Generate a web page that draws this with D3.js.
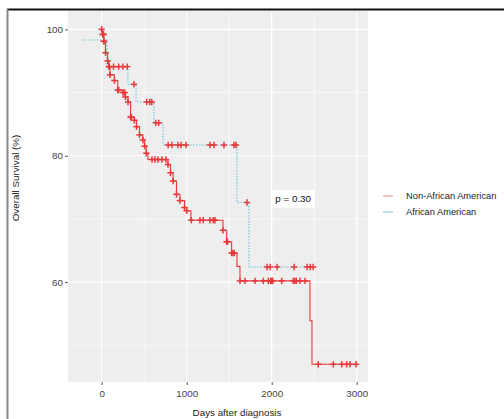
<!DOCTYPE html>
<html><head><meta charset="utf-8">
<script src="https://cdn.jsdelivr.net/npm/d3@7"></script>
<style>body{margin:0;background:#fff}svg{display:block}</style>
</head><body>
<script>
// ---- data ----
const seriesNames = ["Non-African American", "African American"];
// Kaplan-Meier steps: [day, survival % after drop]
const nonAAsteps = [[0,100],[12,99.2],[25,98.1],[45,96.3],[70,95.0],[85,94.1],[98,92.8],[150,91.9],[190,90.4],[250,90.0],[280,89.3],[310,88.5],[340,86.1],[385,85.6],[410,84.6],[445,83.3],[485,82.5],[505,81.5],[525,80.4],[545,79.4],[780,78.6],[810,77.3],[840,76.0],[880,73.9],[920,72.9],[975,71.8],[1000,71.3],[1050,69.8],[1427,68.2],[1470,66.4],[1529,64.6],[1592,62.5],[1627,60.2],[2450,53.9],[2474,47.0]];
const nonAAend = 2992;
const nonAAcensor = [0,12,18,22,25,28,45,70,85,98,150,190,200,250,270,280,310,340,350,385,410,445,485,505,525,592,627,662,709,756,780,810,840,880,920,975,1000,1055,1156,1195,1274,1313,1333,1427,1470,1480,1529,1545,1560,1627,1686,1804,1902,1961,1989,2000,2012,2118,2254,2274,2290,2333,2392,2548,2725,2824,2882,2921,2992];
const aaSteps = [[-232,98.3],[62,94.1],[309,91.3],[404,88.5],[615,85.2],[721,81.7],[1592,72.6],[1733,62.4]];
const aaEnd = 2488;
const aaCensor = [90,140,200,250,300,380,530,566,590,637,672,782,827,898,934,992,1274,1321,1439,1557,1580,1710,1946,1981,2064,2264,2417,2453,2488];
const xTicks = [0,1000,2000,3000];
const xMinor = [500,1500,2500];
const yTicks = [60,80,100];
const yMinor = [50,70,90];
const pLabel = "p = 0.30";

// ---- drawing ----
const W=504,H=419;
const svg=d3.select("body").append("svg").attr("width",W).attr("height",H);
const font="Liberation Sans, Arial, sans-serif";
const red="#e8383a", teal="#6cc3d8";

// frame lines
svg.append("rect").attr("x",7).attr("y",8.5).attr("width",W-7).attr("height",2).attr("fill","#111");
svg.append("rect").attr("x",6.5).attr("y",9).attr("width",2).attr("height",H-9).attr("fill","#888");

const L=68,R=368,T=11,B=382;
const x=d3.scaleLinear().domain([-396,3133]).range([L,R]);
const y=d3.scaleLinear().domain([44.2,102.9]).range([B,T]);

svg.append("rect").attr("x",L).attr("y",T).attr("width",R-L).attr("height",B-T).attr("fill","#eeeeee");
const g=svg.append("g");
g.selectAll(".xm").data(xMinor).enter().append("line").attr("x1",d=>x(d)).attr("x2",d=>x(d)).attr("y1",T).attr("y2",B).attr("stroke","#fff").attr("stroke-width",0.6);
g.selectAll(".ym").data(yMinor).enter().append("line").attr("y1",d=>y(d)).attr("y2",d=>y(d)).attr("x1",L).attr("x2",R).attr("stroke","#fff").attr("stroke-width",0.6);
g.selectAll(".xM").data(xTicks).enter().append("line").attr("x1",d=>x(d)).attr("x2",d=>x(d)).attr("y1",T).attr("y2",B).attr("stroke","#fff").attr("stroke-width",1.2);
g.selectAll(".yM").data(yTicks).enter().append("line").attr("y1",d=>y(d)).attr("y2",d=>y(d)).attr("x1",L).attr("x2",R).attr("stroke","#fff").attr("stroke-width",1.2);

// axes
const xa=svg.append("g").attr("transform",`translate(0,${B})`).call(d3.axisBottom(x).tickValues(xTicks).tickSize(3).tickPadding(5).tickFormat(d3.format("d")));
const ya=svg.append("g").attr("transform",`translate(${L},0)`).call(d3.axisLeft(y).tickValues(yTicks).tickSize(3).tickPadding(2).tickFormat(d3.format("d")));
[xa,ya].forEach(a=>{a.select(".domain").remove();a.selectAll("line").attr("stroke","#555");a.selectAll("text").attr("fill","#444").style("font-family",font).style("font-size","9.8px");});

svg.append("text").attr("x",237).attr("y",416).attr("text-anchor","middle").style("font-family",font).style("font-size","9.8px").attr("fill","#222").text("Days after diagnosis");
svg.append("text").attr("transform","translate(19,178) rotate(-90)").attr("text-anchor","middle").style("font-family",font).style("font-size","9.8px").attr("fill","#222").text("Overall Survival (%)");

function survAt(steps,t){let s=steps[0][1];for(const p of steps){if(p[0]<=t)s=p[1];}return s;}
const line=d3.line().x(d=>x(d[0])).y(d=>y(d[1])).curve(d3.curveStepAfter);
const nonAApts=nonAAsteps.concat([[nonAAend,survAt(nonAAsteps,nonAAend)]]);
const aaPts=aaSteps.concat([[aaEnd,survAt(aaSteps,aaEnd)]]);

svg.append("path").attr("d",line(aaPts)).attr("fill","none").attr("stroke",teal).attr("stroke-width",1.1).attr("stroke-dasharray","1.5,1.5");
svg.append("path").attr("d",line(nonAApts)).attr("fill","none").attr("stroke",red).attr("stroke-width",1.1);

function crosses(times,steps){
  const c=svg.append("g").attr("stroke",red).attr("stroke-width",1.5);
  times.forEach(t=>{const cx=x(t),cy=y(survAt(steps,t));
    c.append("line").attr("x1",cx-3.2).attr("x2",cx+3.2).attr("y1",cy).attr("y2",cy);
    c.append("line").attr("x1",cx).attr("x2",cx).attr("y1",cy-3.2).attr("y2",cy+3.2);});
}
crosses(aaCensor,aaSteps);
crosses(nonAAcensor,nonAAsteps);

// p-value box
svg.append("rect").attr("x",x(2000)).attr("y",y(74.6)).attr("width",43).attr("height",18).attr("fill","#fff");
svg.append("text").attr("x",x(2000)+21.5).attr("y",y(74.6)+12.5).attr("text-anchor","middle").style("font-family",font).style("font-size","9.8px").attr("fill","#111").text(pLabel);

// legend
const leg=svg.append("g");
const keyCols=["#f29a9a","#86cde0"];
seriesNames.forEach((n,i)=>{
  const yy=196+i*16;
  leg.append("line").attr("x1",383).attr("x2",393).attr("y1",yy).attr("y2",yy).attr("stroke",keyCols[i]).attr("stroke-width",1.2);
  leg.append("text").attr("x",406).attr("y",yy+3.4).style("font-family",font).style("font-size","9.3px").attr("fill","#222").text(n);
});
</script>
</body></html>
